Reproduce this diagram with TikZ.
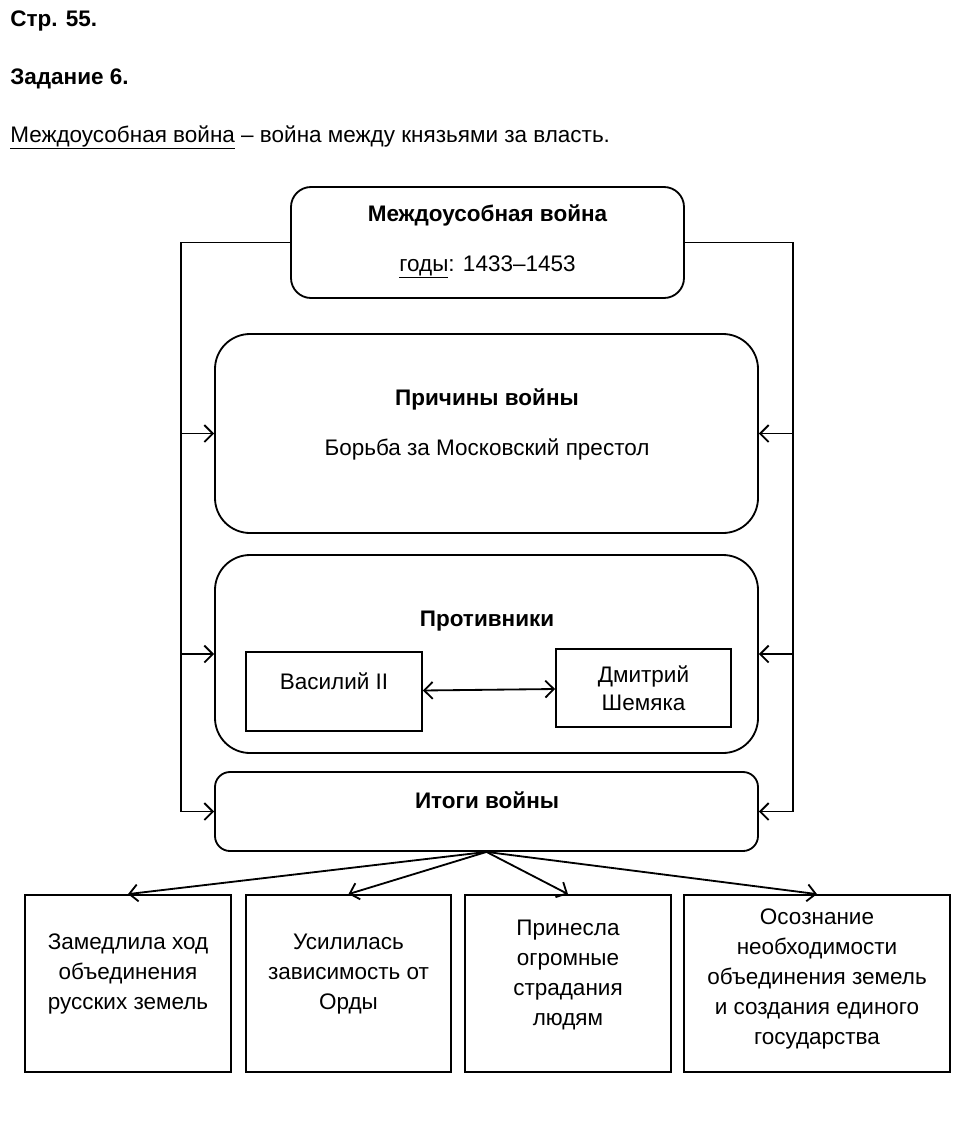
\documentclass[tikz,border=0pt]{standalone}
\usepackage{fontspec}
\setmainfont{Liberation Sans}
\usetikzlibrary{arrows.meta,positioning}
\newcommand{\pxu}{0.025cm}

\begin{document}
\begin{tikzpicture}[x=\pxu, y=-\pxu,
  every node/.style={font=\fontsize{16}{21.3}\selectfont, inner sep=0pt},
  rbox/.style={draw, line width=1.3pt, minimum width=543*\pxu},
  pbox/.style={draw, line width=1.3pt, align=center},
  hdg/.style={font=\fontsize{16}{21.3}\selectfont\bfseries, anchor=base},
  txt/.style={anchor=base},
  res/.style={align=center, font=\fontsize{16}{0.75cm}\selectfont},
  arr/.style={-{Straight Barb[length=6pt,width=12pt]}, line width=1.3pt},
  darr/.style={{Straight Barb[length=6pt,width=12pt]}-{Straight Barb[length=6pt,width=12pt]}, line width=1.3pt}]
\useasboundingbox (0,0) rectangle (960,1133);
% heading
\node[hdg, anchor=base west] (page) at (10,26) {Стр. 55.};
\node[hdg, anchor=base west] (task) at (10,84) {Задание 6.};
\node[txt, anchor=base west] (defn) at (10,142) {\underline{Междоусобная война} – война между князьями за власть.};
% main boxes
\node[rbox, rounded corners=0.5cm, minimum width=393*\pxu, minimum height=111*\pxu] (war) at (487.5,242.5) {};
\node[hdg] (wart) at (487.5,221) {Междоусобная война};
\node[txt] (years) at (487.5,271) {\underline{годы}: 1433–1453};
\node[rbox, rounded corners=0.875cm, minimum height=199*\pxu] (causes) at (486.5,433.5) {};
\node[hdg] (causest) at (487,405) {Причины войны};
\node[txt] (causesx) at (487,455) {Борьба за Московский престол};
\node[rbox, rounded corners=0.875cm, minimum height=198*\pxu] (rivals) at (486.5,654) {};
\node[hdg] (rivalst) at (487,626) {Противники};
\node[pbox, minimum width=176*\pxu, minimum height=79*\pxu, text height=12pt, text depth=15pt] (vasily) at (334,691.5) {Василий II};
\node[pbox, minimum width=175*\pxu, minimum height=78*\pxu, font=\fontsize{16}{0.7cm}\selectfont] (dmitry) at (643.5,688) {Дмитрий\\Шемяка};
\draw[darr] (vasily) -- (dmitry);
\node[rbox, rounded corners=0.375cm, minimum height=79*\pxu] (results) at (486.5,811.5) {};
\node[hdg] (resultst) at (487,808) {Итоги войны};
% side brackets
\coordinate (lbus) at (181,242.5);
\coordinate (rbus) at (793,242.5);
\draw[arr] (war.west) -- (lbus) |- (results.west);
\draw[arr] (war.east) -- (rbus) |- (results.east);
\foreach \n in {causes,rivals}{
  \draw[arr] (lbus |- \n.west) -- (\n.west);
  \draw[arr] (rbus |- \n.east) -- (\n.east);}
% results
\foreach \n/\x/\w in {r1/128/206, r2/348.5/205, r3/568/206, r4/817/266}{
  \node[pbox, minimum width=\w*\pxu, minimum height=177*\pxu] (\n) at (\x,983.5) {};
  \draw[arr] (results.south) -- (\n.north);}
\node[res] (r1t) at (128,974) {Замедлила ход\\объединения\\русских земель};
\node[res] (r2t) at (348.5,974) {Усилилась\\зависимость от\\Орды};
\node[res] (r3t) at (568,974.5) {Принесла\\огромные\\страдания\\людям};
\node[res] (r4t) at (817,979) {Осознание\\необходимости\\объединения земель\\и создания единого\\государства};
\end{tikzpicture}
\end{document}
